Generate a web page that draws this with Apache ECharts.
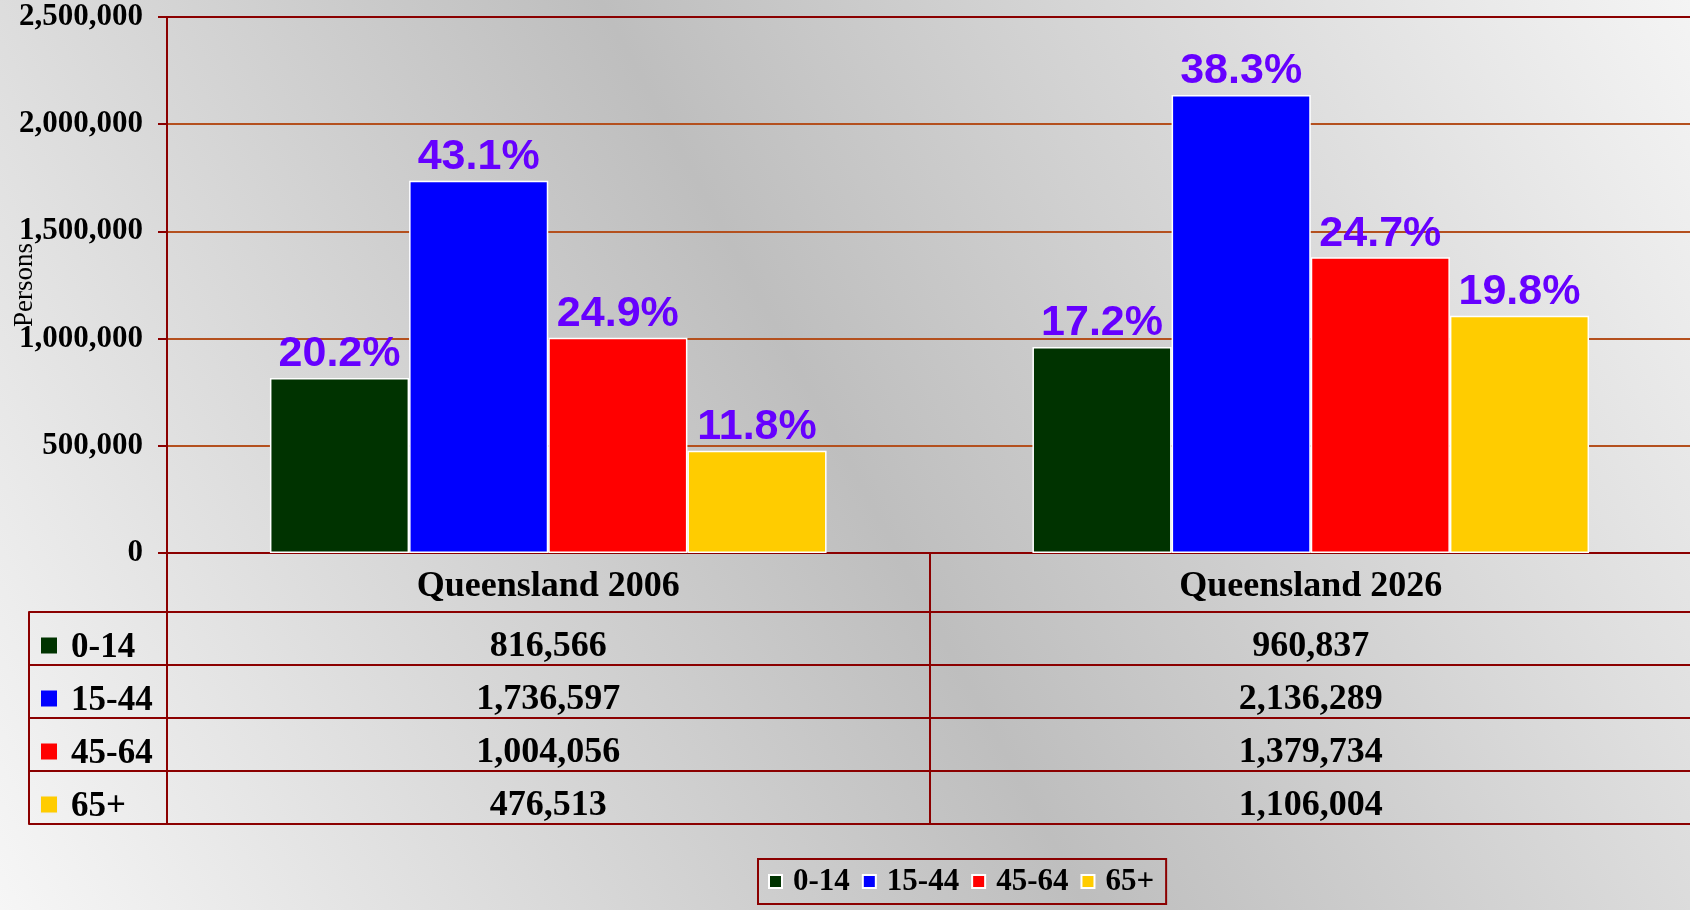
<!DOCTYPE html>
<html>
<head>
<meta charset="utf-8">
<script src="https://cdn.jsdelivr.net/npm/echarts@6/dist/echarts.min.js"></script>
<style>
  html, body { margin: 0; padding: 0; }
  #chart { width: 1690px; height: 910px; }
</style>
</head>
<body>
<div id="chart"></div>
<script>
const years = ['Queensland 2006', 'Queensland 2026'];
const ageGroups = ['0-14', '15-44', '45-64', '65+'];
const colors = ['#003300', '#0000FF', '#FF0000', '#FFCC00'];

// persons by age group, one array per group: [2006, 2026]
const age0to14 = [816566, 960837];
const age15to44 = [1736597, 2136289];
const age45to64 = [1004056, 1379734];
const age65plus = [476513, 1106004];

// share of total population (label above each bar)
const pct0to14 = ['20.2%', '17.2%'];
const pct15to44 = ['43.1%', '38.3%'];
const pct45to64 = ['24.9%', '24.7%'];
const pct65plus = ['11.8%', '19.8%'];

const yTicks = [0, 500000, 1000000, 1500000, 2000000, 2500000];

const values = [age0to14, age15to44, age45to64, age65plus];
const pcts = [pct0to14, pct15to44, pct45to64, pct65plus];

const darkRed = '#8B0000';
const gridBrown = '#B4501E';
const serif = '"Liberation Serif", "Times New Roman", serif';
const fmt = v => v.toLocaleString('en-US');

const chart = echarts.init(document.getElementById('chart'));

const barSeries = ageGroups.map((name, i) => ({
  name: name,
  type: 'bar',
  xAxisIndex: 0,
  yAxisIndex: 0,
  barGap: '0%',
  barCategoryGap: '27%',
  data: values[i],
  itemStyle: { color: colors[i], borderColor: '#ffffff', borderWidth: 1.5 },
  label: {
    show: true,
    position: 'top',
    distance: 2,
    formatter: p => pcts[i][p.dataIndex],
    color: '#6600FF',
    fontFamily: '"Liberation Sans", Arial, sans-serif',
    fontWeight: 'bold',
    fontSize: 43
  }
}));

// table cells: [column, row, value]
const cells = [];
ageGroups.forEach((g, i) => {
  years.forEach((y, j) => cells.push([y, g, values[i][j]]));
});

const rowRich = { t: { fontFamily: serif, fontWeight: 'bold', fontSize: 35, color: '#000', padding: [4, 0, 0, 14] } };
colors.forEach((c, i) => {
  rowRich['sq' + i] = { width: 16, height: 16, backgroundColor: c, borderColor: '#eeeeee', borderWidth: 1 };
});

const options = {
  backgroundColor: {
    type: 'linear', x: 0, y: 1, x2: 1, y2: 0,
    colorStops: [
      { offset: 0, color: '#f6f6f6' },
      { offset: 0.5, color: '#bebebe' },
      { offset: 1, color: '#f4f4f4' }
    ]
  },
  animation: false,
  legend: {
    data: ageGroups,
    left: 758,
    top: 859,
    padding: [7, 12, 7, 10],
    itemGap: 12,
    itemWidth: 13,
    itemHeight: 13,
    icon: 'rect',
    borderColor: darkRed,
    borderWidth: 2,
    textStyle: { fontFamily: serif, fontWeight: 'bold', fontSize: 31, color: '#000', padding: [0, 0, 0, 6] }
  },
  grid: [
    { left: 167, right: -2, top: 17, bottom: 357, outerBoundsMode: 'none' },
    { left: 167, right: -2, top: 612, bottom: 86, outerBoundsMode: 'none' }
  ],
  xAxis: [
    {
      gridIndex: 0,
      type: 'category',
      data: years,
      axisLine: { lineStyle: { color: darkRed, width: 2 } },
      axisTick: { show: true, length: 59, lineStyle: { color: darkRed, width: 2 } },
      axisLabel: { margin: 16, fontFamily: serif, fontWeight: 'bold', fontSize: 36, color: '#000' }
    },
    {
      gridIndex: 1,
      type: 'category',
      data: years,
      position: 'top',
      axisLine: { show: true, lineStyle: { color: darkRed, width: 2 } },
      axisTick: { show: false },
      axisLabel: { show: false },
      splitLine: { show: true, lineStyle: { color: darkRed, width: 2 } }
    }
  ],
  yAxis: [
    {
      gridIndex: 0,
      type: 'value',
      min: 0,
      max: yTicks[yTicks.length - 1],
      interval: 500000,
      name: 'Persons',
      nameLocation: 'middle',
      nameGap: 129,
      nameMoveOverlap: false,
      nameRotate: 90,
      nameTextStyle: { fontFamily: serif, fontSize: 27, color: '#000' },
      axisLine: { show: true, lineStyle: { color: darkRed, width: 2 } },
      axisTick: { show: true, length: 9, lineStyle: { color: darkRed, width: 2 } },
      axisLabel: { margin: 24, formatter: fmt, fontFamily: serif, fontWeight: 'bold', fontSize: 31, color: '#000' },
      splitLine: { lineStyle: { color: [darkRed, gridBrown, gridBrown, gridBrown, gridBrown, darkRed], width: 2 } }
    },
    {
      gridIndex: 1,
      type: 'category',
      data: ageGroups,
      inverse: true,
      axisLine: { show: true, lineStyle: { color: darkRed, width: 2 } },
      axisTick: { show: true, length: 138, lineStyle: { color: darkRed, width: 2 } },
      axisLabel: {
        align: 'left',
        margin: 126,
        padding: [14, 0, 0, 0],
        formatter: (v, i) => '{sq' + i + '|}{t|' + v + '}',
        rich: rowRich
      },
      splitLine: { show: true, lineStyle: { color: darkRed, width: 2 } }
    },
    {
      gridIndex: 1,
      type: 'category',
      data: ageGroups,
      inverse: true,
      position: 'left',
      offset: 138,
      axisLine: { show: true, lineStyle: { color: darkRed, width: 2 } },
      axisTick: { show: false },
      axisLabel: { show: false }
    }
  ],
  series: barSeries.concat([{
    type: 'scatter',
    xAxisIndex: 1,
    yAxisIndex: 1,
    symbolSize: 0,
    itemStyle: { color: 'rgba(0,0,0,0)', opacity: 1 },
    data: cells,
    label: {
      show: true,
      position: 'inside',
      offset: [0, 8],
      formatter: p => fmt(p.value[2]),
      fontFamily: serif,
      fontWeight: 'bold',
      fontSize: 36,
      color: '#000',
      textBorderWidth: 0
    }
  }])
};

chart.setOption(options);
</script>
</body>
</html>
